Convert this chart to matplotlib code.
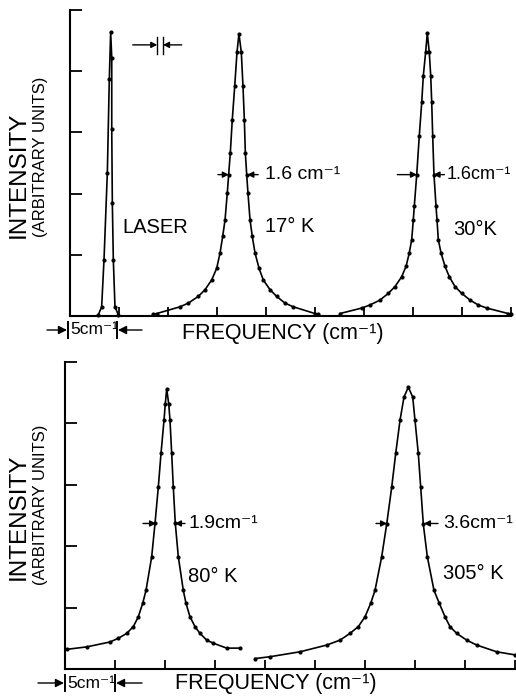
import matplotlib
matplotlib.use("Agg")
import matplotlib.pyplot as plt
from matplotlib.patches import FancyArrowPatch

plt.rcParams['font.family'] = ['Liberation Sans', 'DejaVu Sans']

# ---------------- data ----------------
# x in cm^-1 (ticks every 5 cm^-1), y in arbitrary intensity units
laser_x = [2.89, 3.23, 3.47, 3.81, 4.01, 4.15, 4.26, 4.26, 4.32, 4.42, 4.59, 4.93]
laser_y = [0.02, 0.15, 0.92, 2.34, 3.87, 4.64, 4.22, 3.05, 1.85, 0.92, 0.15, 0.02]

k17_x = [8.47, 8.85, 11.22, 12.07, 13.09, 13.78, 14.46, 14.97, 15.31, 15.58, 15.82, 16.05,
         16.19, 16.36, 16.56, 16.81, 17.04, 17.24, 17.48, 17.65, 17.79, 17.89, 18.03, 18.16,
         18.37, 18.6, 18.88, 19.29, 19.72, 20.41, 21.09, 21.94, 22.79, 25.0, 25.3]
k17_y = [0.03, 0.04, 0.15, 0.21, 0.32, 0.43, 0.59, 0.78, 1.03, 1.30, 1.57, 2.01,
         2.31, 2.67, 3.21, 3.76, 4.31, 4.61, 4.31, 3.76, 3.21, 2.67, 2.31, 2.01,
         1.57, 1.30, 1.03, 0.78, 0.59, 0.43, 0.32, 0.21, 0.15, 0.04, 0.03]

k30_x = [27.55, 29.77, 30.61, 31.63, 32.48, 33.16, 33.84, 34.29, 34.62, 34.87, 35.03, 35.13,
         35.38, 35.64, 35.89, 36.05, 36.29, 36.46, 36.66, 36.81, 36.91, 37.01, 37.14, 37.35,
         37.45, 37.58, 37.86, 38.27, 38.71, 39.29, 39.97, 40.82, 41.66, 42.52, 44.72, 45.0]
k30_y = [0.04, 0.13, 0.18, 0.26, 0.37, 0.48, 0.64, 0.81, 1.03, 1.25, 1.57, 1.79,
         2.31, 2.94, 3.49, 3.92, 4.31, 4.62, 4.31, 3.92, 3.49, 2.94, 2.31, 1.79,
         1.57, 1.25, 1.03, 0.81, 0.64, 0.48, 0.37, 0.26, 0.18, 0.13, 0.04, 0.03]

k80_x = [0.17, 2.17, 4.5, 5.33, 6.17, 6.83, 7.33, 7.77, 8.1, 8.67, 9.0, 9.33, 9.6, 9.9,
         10.03, 10.17, 10.37, 10.5, 10.67, 10.83, 11.03, 11.33, 11.83, 12.1, 12.5, 13.0,
         13.5, 14.17, 14.83, 16.17, 17.5]
k80_y = [0.32, 0.36, 0.44, 0.50, 0.58, 0.69, 0.85, 1.07, 1.28, 1.83, 2.37, 2.96, 3.51, 4.05,
         4.32, 4.56, 4.32, 4.05, 3.51, 2.96, 2.37, 1.83, 1.28, 1.07, 0.85, 0.69,
         0.58, 0.47, 0.42, 0.34, 0.34]

k305_x = [19.0, 20.5, 23.5, 26.17, 27.5, 28.5, 29.33, 30.0, 30.57, 31.0, 31.67, 32.17, 32.67,
          33.07, 33.5, 33.9, 34.33, 34.77, 35.0, 35.33, 35.57, 35.83, 36.23, 36.9, 37.43,
          38.0, 38.5, 39.17, 40.17, 41.17, 43.17, 45.0]
k305_y = [0.17, 0.2, 0.28, 0.39, 0.47, 0.58, 0.69, 0.85, 1.07, 1.28, 1.83, 2.36, 2.96,
          3.51, 4.05, 4.43, 4.59, 4.43, 4.05, 3.51, 2.96, 2.36, 1.83, 1.28, 1.07,
          0.85, 0.69, 0.58, 0.47, 0.39, 0.28, 0.23]

x_ticks = [5, 10, 15, 20, 25, 30, 35, 40, 45]
y_ticks = [1, 2, 3, 4, 5]

top_widths = ["1.6 cm\u207b\u00b9", "1.6cm\u207b\u00b9"]
top_temps = ["17\u00b0 K", "30\u00b0K"]
bot_widths = ["1.9cm\u207b\u00b9", "3.6cm\u207b\u00b9"]
bot_temps = ["80\u00b0 K", "305\u00b0 K"]

# ---------------- figure ----------------
W, H = 516, 700
fig = plt.figure(figsize=(W / 100, H / 100), dpi=100)
fig.patch.set_facecolor('white')

def px_axes(l, t, r, b):
    return fig.add_axes([l / W, 1 - b / H, (r - l) / W, (b - t) / H])

ax1 = px_axes(70, 10, 511, 316)
ax2 = px_axes(65, 362, 515, 669)

for ax in (ax1, ax2):
    ax.set_xlim(0, 45)
    ax.set_ylim(0, 5)
    for s in ('top', 'right'):
        ax.spines[s].set_visible(False)
    for s in ('left', 'bottom'):
        ax.spines[s].set_linewidth(1.5)
        ax.spines[s].set_color('black')
    ax.set_xticks(x_ticks)
    ax.set_yticks(y_ticks)
    ax.tick_params(axis='x', direction='in', length=6.5, width=1.3, labelbottom=False)
    ax.tick_params(axis='y', direction='in', length=8.5, width=1.3, labelleft=False)
    ax.set_facecolor('white')

line_kw = dict(color='black', lw=1.2, marker='o', ms=2.0, mfc='black', mec='black',
               clip_on=False, zorder=3)
ax1.plot(laser_x, laser_y, **line_kw)
ax1.plot(k17_x, k17_y, **line_kw)
ax1.plot(k30_x, k30_y, **line_kw)
ax2.plot(k80_x, k80_y, **line_kw)
ax2.plot(k305_x, k305_y, **line_kw)

arr_kw = dict(arrowstyle='-|>,head_length=0.35,head_width=0.18', color='black', lw=1.0,
              shrinkA=0, shrinkB=0)

def hw_arrows(ax, xl0, xl1, xr0, xr1, y):
    ax.annotate('', xy=(xl1, y), xytext=(xl0, y), arrowprops=arr_kw)
    ax.annotate('', xy=(xr1, y), xytext=(xr0, y), arrowprops=arr_kw)

fs_lab = 14.5
fs_w = 14
# top panel annotations
ax1.text(5.3, 1.44, "LASER", fontsize=fs_lab, va='center', ha='left')
ax1.text(19.9, 2.31, top_widths[0], fontsize=fs_w, va='center', ha='left')
ax1.text(19.9, 1.46, top_temps[0], fontsize=fs_lab, va='center', ha='left')
ax1.text(38.4, 2.31, top_widths[1], fontsize=13, va='center', ha='left')
ax1.text(39.1, 1.41, top_temps[1], fontsize=fs_lab, va='center', ha='left')
hw_arrows(ax1, 15.1, 16.2, 19.2, 18.1, 2.31)
hw_arrows(ax1, 33.4, 35.4, 38.2, 37.1, 2.31)
# resolution marker
ax1.annotate('', xy=(8.9, 4.43), xytext=(6.4, 4.43), arrowprops=arr_kw)
ax1.annotate('', xy=(9.5, 4.43), xytext=(11.4, 4.43), arrowprops=arr_kw)
ax1.plot([8.9, 8.9], [4.28, 4.56], color='black', lw=1.0)
ax1.plot([9.5, 9.5], [4.28, 4.56], color='black', lw=1.0)

# bottom panel annotations
ax2.text(12.3, 2.37, bot_widths[0], fontsize=fs_w, va='center', ha='left')
ax2.text(12.3, 1.5, bot_temps[0], fontsize=fs_lab, va='center', ha='left')
ax2.text(37.8, 2.37, bot_widths[1], fontsize=fs_w, va='center', ha='left')
ax2.text(37.8, 1.56, bot_temps[1], fontsize=fs_lab, va='center', ha='left')
hw_arrows(ax2, 7.8, 9.1, 12.0, 11.0, 2.37)
hw_arrows(ax2, 31.1, 32.2, 37.3, 35.9, 2.37)

# axis titles (positions given in pixels from top-left)
def ftext(xp, yp, s, **kw):
    fig.text(xp / W, 1 - yp / H, s, **kw)

for yc_int, yc_arb in ((175, 157), (517, 505)):
    ftext(18.5, yc_int, "INTENSITY", fontsize=17.5, rotation=90, ha='center', va='center')
    ftext(41, yc_arb, "(ARBITRARY UNITS)", fontsize=12, rotation=90, ha='center', va='center')

ftext(182, 333, "FREQUENCY (cm\u207b\u00b9)", fontsize=15.5, ha='left', va='center')
ftext(175, 683, "FREQUENCY (cm\u207b\u00b9)", fontsize=15.5, ha='left', va='center')

# 5 cm^-1 scale markers under the axes
def scale_marker(bar_l, bar_r, yc, a_l0, a_r0):
    ftext(bar_l + 2, yc, "5cm\u207b\u00b9", fontsize=12.5, ha='left', va='center')
    for xb in (bar_l, bar_r):
        fig.add_artist(plt.Line2D([xb / W, xb / W], [1 - (yc - 8) / H, 1 - (yc + 8) / H],
                                  color='black', lw=1.4, transform=fig.transFigure))
    for a0, a1 in ((a_l0, bar_l - 1), (a_r0, bar_r + 1)):
        fig.add_artist(FancyArrowPatch(
            (a0 / W, 1 - yc / H), (a1 / W, 1 - yc / H), transform=fig.transFigure,
            arrowstyle='-|>,head_length=5,head_width=2.5', color='black', lw=1.0,
            shrinkA=0, shrinkB=0))

scale_marker(68, 117, 330, 47, 142)
scale_marker(65, 115, 683, 38, 142)

fig.savefig("out.png", dpi=100, facecolor='white')
